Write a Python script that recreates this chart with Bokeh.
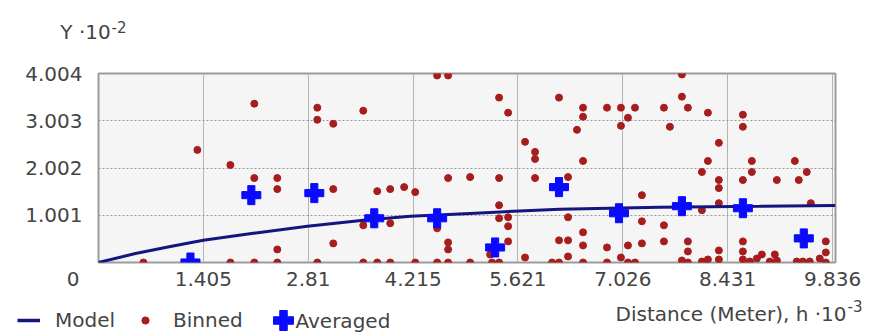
from bokeh.plotting import figure
from bokeh.layouts import column
from bokeh.models import FixedTicker, Label, Legend, LegendItem, Range1d
from bokeh.embed import file_html
from bokeh.resources import INLINE

# ---- data (h in 10^3 m, gamma in 10^-2) ----
x_ticks = [0, 1.405, 2.81, 4.215, 5.621, 7.026, 8.431, 9.836]
x_tick_labels = ["0", "1.405", "2.81", "4.215", "5.621", "7.026", "8.431", "9.836"]
y_ticks = [1.001, 2.002, 3.003, 4.004]
y_tick_labels = ["1.001", "2.002", "3.003", "4.004"]

binned_h = [0.602, 1.325, 1.767, 1.767, 2.088, 2.088, 2.088, 2.396, 2.396, 2.396, 2.396,
            2.932, 2.932, 2.932, 3.146, 3.146, 3.146, 3.548, 3.548, 3.548, 3.735, 3.735,
            3.909, 3.909, 3.909, 4.096, 4.244, 4.244, 4.538, 4.685, 4.538, 4.538, 4.685,
            4.685, 4.685, 4.685, 4.980, 4.980, 5.248, 5.274, 5.368, 5.489, 5.368, 5.368,
            5.368, 5.489, 5.489, 5.489, 5.368, 5.716, 5.850, 5.850, 5.850, 5.716, 6.078,
            6.171, 6.171, 6.171, 6.292, 6.292, 6.292, 6.292, 6.412, 6.493, 6.493, 6.493,
            6.493, 6.493, 6.493, 6.814, 6.814, 6.814, 7.001, 7.001, 7.095, 7.001, 7.095,
            7.095, 7.189, 7.189, 7.282, 7.282, 7.282, 7.577, 7.657, 7.577, 7.577, 7.818,
            7.818, 7.898, 7.818, 7.898, 7.898, 7.898, 8.086, 8.086, 8.086, 8.166, 8.166,
            8.166, 8.313, 8.313, 8.313, 8.313, 8.313, 8.313, 8.635, 8.635, 8.635, 8.635,
            8.635, 8.635, 8.728, 8.755, 8.755, 8.822, 8.889, 8.996, 9.063, 9.090, 9.090,
            9.331, 9.384, 9.491, 9.357, 9.438, 9.531, 9.545, 9.746, 9.746, 9.746, 9.665]
binned_g = [0.0, 2.385, 2.066, 0.0, 3.365, 1.789, 0.0, 1.789, 1.555, 0.277, 0.0,
            3.280, 3.024, 0.0, 2.939, 1.555, 0.405, 3.216, 0.788, 0.0, 1.512, 0.0,
            1.555, 0.831, 0.0, 1.597, 1.491, 0.0, 3.962, 3.962, 0.724, 0.0, 1.789,
            0.426, 0.277, 0.0, 1.810, 0.0, 0.170, 0.0, 3.493, 3.174, 1.789, 1.214,
            0.937, 0.958, 0.767, 0.447, 0.0, 2.556, 2.343, 2.194, 1.789, 0.106, 0.0,
            3.493, 0.469, 0.0, 1.810, 0.958, 0.469, 0.128, 2.811, 3.280, 3.088, 2.151,
            0.639, 0.362, 0.0, 3.280, 0.319, 0.0, 3.280, 2.897, 3.067, 0.106, 0.362,
            0.0, 3.280, 0.0, 1.427, 0.873, 0.405, 3.280, 2.875, 0.788, 0.447, 3.983,
            3.514, 3.280, 0.043, 0.447, 0.234, 0.0, 1.917, 1.108, 0.021, 3.174, 2.151,
            0.064, 2.535, 1.747, 1.576, 1.257, 0.256, 0.064, 3.131, 2.875, 1.747, 0.447,
            0.234, 0.064, 0.021, 2.151, 1.917, 0.085, 0.170, 0.021, 0.170, 1.747, 0.043,
            2.151, 1.747, 1.917, 0.021, 0.021, 0.021, 1.257, 0.447, 0.213, 0.0, 0.085]

avg_h = [1.232, 2.048, 2.892, 3.695, 4.538, 5.315, 6.171, 6.975, 7.818, 8.635, 9.451]
avg_g = [0.0, 1.427, 1.470, 0.937, 0.937, 0.319, 1.597, 1.044, 1.193, 1.150, 0.511]

model_h = [0.0, 0.495, 0.964, 1.405, 2.075, 2.80, 3.55, 4.18, 4.98, 6.18, 7.52, 8.86, 9.876]
model_g = [0.0, 0.19, 0.34, 0.47, 0.62, 0.77, 0.895, 0.98, 1.04, 1.13, 1.17, 1.19, 1.21]

y_title, y_exp = "Y \u00b710", "-2"
x_title, x_exp = "Distance (Meter), h \u00b710", "-3"
legend_labels = ["Model", "Binned", "Averaged"]

FONT = "DejaVu Sans"
TXT = "#444444"
FS = "20px"
SUP = "15px"
RED = "#a51d1d"
BLUE = "#0a0aff"
NAVY = "#15157f"
W = 871
NAN = float("nan")


def strip(h):
    s = figure(width=W, height=h, output_backend="svg", toolbar_location=None,
               x_range=Range1d(0, W), y_range=Range1d(0, h),
               x_axis_type=None, y_axis_type=None, min_border=0,
               outline_line_color=None, background_fill_color="white",
               border_fill_color="white")
    s.frame_align = False
    return s


def lab(fig, x, y, text, size=FS, align="left"):
    fig.add_layout(Label(x=x, y=y, text=text, text_font=FONT, text_font_size=size,
                         text_color=TXT, text_align=align, text_baseline="middle"))


# ---- top strip: y-axis title ----
top = strip(45)
lab(top, 85, 14, y_title, align="center")
lab(top, 111, 19, y_exp, size=SUP)

# ---- main chart ----
p = figure(width=W, height=252, output_backend="svg", toolbar_location=None,
           x_range=Range1d(0, 9.876), y_range=Range1d(0, 4.004),
           min_border_left=98, min_border_right=36, min_border_top=28, min_border_bottom=35,
           background_fill_color="#f5f5f5", border_fill_color="white",
           outline_line_color="#9c9c9c", outline_line_width=2)
p.frame_align = False

p.scatter(binned_h, binned_g, marker="circle", size=7, fill_color=RED, line_color=RED)
p.line(model_h, model_g, line_color=NAVY, line_width=3)
p.scatter(avg_h, avg_g, marker="plus", size=19, fill_color=BLUE, line_color=BLUE)

xa = p.xaxis[0]
xa.ticker = FixedTicker(ticks=x_ticks)
labels_x = list(x_tick_labels)
labels_x[0] = labels_x[0] + "\u00a0" * 8   # the corner "0" sits left of the axis origin
xa.major_label_overrides = dict(zip(x_ticks, labels_x))
ya = p.yaxis[0]
ya.ticker = FixedTicker(ticks=y_ticks)
ya.major_label_overrides = dict(zip(y_ticks, y_tick_labels))
for ax in (xa, ya):
    ax.axis_line_color = None
    ax.major_tick_line_color = None
    ax.minor_tick_line_color = None
    ax.major_tick_out = 0
    ax.major_tick_in = 0
    ax.major_label_text_font = FONT
    ax.major_label_text_font_size = FS
    ax.major_label_text_color = TXT
xa.major_label_standoff = 4
ya.major_label_standoff = 16

p.xgrid.ticker = FixedTicker(ticks=x_ticks[1:])
p.xgrid.grid_line_color = "#b4b4b4"
p.xgrid.grid_line_width = 1
p.ygrid.ticker = FixedTicker(ticks=y_ticks[:-1])
p.ygrid.grid_line_color = "#999999"
p.ygrid.grid_line_dash = "2 2"

# ---- bottom strip: legend + x-axis title ----
bot = strip(36)
# legend keys only: a single NaN point, so nothing is drawn in the strip itself
k_model = bot.line([NAN], [NAN], line_color=NAVY, line_width=3.5)
k_bin = bot.scatter([NAN], [NAN], marker="circle", fill_color=RED, line_color=RED)
k_avg = bot.scatter([NAN], [NAN], marker="plus", fill_color=BLUE, line_color=BLUE)

common = dict(orientation="horizontal", padding=0, margin=0, border_line_color=None,
              background_fill_alpha=0, label_text_font=FONT, label_text_font_size=FS,
              label_text_color=TXT)
bot.add_layout(Legend(items=[LegendItem(label=legend_labels[0], renderers=[k_model])],
                      location=(17, 1.5), glyph_width=23, glyph_height=22,
                      label_standoff=15, **common))
bot.add_layout(Legend(items=[LegendItem(label=legend_labels[1], renderers=[k_bin])],
                      location=(136, 1.5), glyph_width=18, glyph_height=18,
                      label_standoff=19, **common))
# big cross key; its label sits closer to the key than a legend allows
bot.add_layout(Legend(items=[LegendItem(label=" ", renderers=[k_avg])],
                      location=(258, -12), glyph_width=50, glyph_height=50,
                      label_standoff=0, **common))
lab(bot, 295, 13, legend_labels[2])
lab(bot, 846, 20, x_title, align="right")
lab(bot, 847, 28, x_exp, size=SUP)

open("out.html", "w").write(file_html(column(top, p, bot, spacing=0), INLINE))
